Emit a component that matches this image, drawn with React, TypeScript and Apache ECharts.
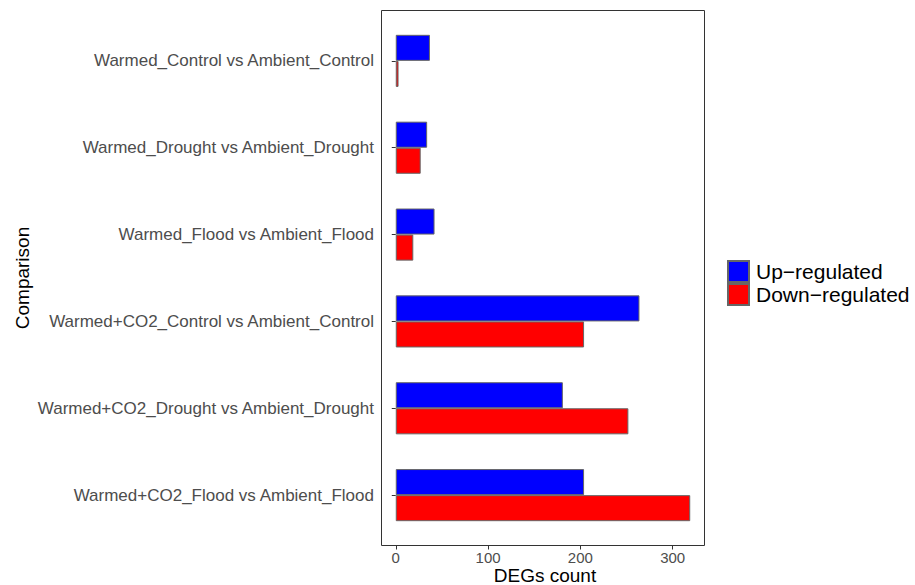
import React, { useEffect, useRef } from "react";
import * as echarts from "echarts";

const categories = [
  "Warmed_Control vs Ambient_Control",
  "Warmed_Drought vs Ambient_Drought",
  "Warmed_Flood vs Ambient_Flood",
  "Warmed+CO2_Control vs Ambient_Control",
  "Warmed+CO2_Drought vs Ambient_Drought",
  "Warmed+CO2_Flood vs Ambient_Flood",
];
const upValues = [37, 34, 42, 264, 181, 204];
const downValues = [3, 27, 19, 204, 252, 319];
const xTicks = [0, 100, 200, 300];
const seriesNames = ["Up\u2212regulated", "Down\u2212regulated"];

const FONT = "'Liberation Sans', Arial, Helvetica, sans-serif";

export default function App() {
  const ref = useRef<HTMLDivElement>(null);

  useEffect(() => {
    if (!ref.current) return;
    const chart = echarts.init(ref.current, null, { renderer: "svg" });

    // plotting panel (bordered box) and the discrete-axis padding inside it
    const panel = { x: 381, y: 10, w: 324, h: 536 };
    const step = panel.h / (categories.length + 1.2);
    const pad = step * 0.1;

    chart.setOption({
      animation: false,
      backgroundColor: "#ffffff",
      textStyle: { fontFamily: FONT },
      grid: {
        left: panel.x,
        width: panel.w,
        top: panel.y + pad,
        height: panel.h - 2 * pad,
        containLabel: false,
      },
      xAxis: {
        type: "value",
        min: -16,
        max: 335,
        offset: pad,
        splitLine: { show: false },
        axisLine: { show: false },
        axisTick: {
          show: true,
          length: 3.5,
          customValues: xTicks,
          lineStyle: { color: "#333333", width: 1 },
        },
        axisLabel: {
          customValues: xTicks,
          color: "#4d4d4d",
          fontSize: 15,
          fontFamily: FONT,
          margin: 4,
        },
      },
      yAxis: {
        type: "category",
        data: categories,
        inverse: true,
        axisLine: { show: false },
        axisTick: {
          show: true,
          alignWithLabel: true,
          length: 4,
          lineStyle: { color: "#333333", width: 1 },
        },
        axisLabel: {
          color: "#4d4d4d",
          fontSize: 17,
          fontFamily: FONT,
          margin: 7,
        },
        splitLine: { show: false },
      },
      legend: {
        orient: "vertical",
        left: 727,
        top: 260,
        padding: 0,
        itemWidth: 21,
        itemHeight: 21,
        itemGap: 0,
        icon: "rect",
        textStyle: { color: "#000000", fontSize: 21, fontFamily: FONT, padding: [0, 0, 0, 2] },
        data: seriesNames,
      },
      series: [
        {
          name: seriesNames[0],
          type: "bar",
          data: upValues,
          barGap: "0%",
          barCategoryGap: "40%",
          itemStyle: { color: "#0000ff", borderColor: "#666666", borderWidth: 1 },
        },
        {
          name: seriesNames[1],
          type: "bar",
          data: downValues,
          barGap: "0%",
          barCategoryGap: "40%",
          itemStyle: { color: "#ff0000", borderColor: "#666666", borderWidth: 1 },
        },
      ],
      graphic: [
        {
          type: "rect",
          shape: { x: panel.x + 0.5, y: panel.y + 0.5, width: panel.w - 1, height: panel.h - 1 },
          style: { fill: "none", stroke: "#333333", lineWidth: 1 },
          silent: true,
          z: 10,
        },
        {
          type: "text",
          x: 22,
          y: panel.y + panel.h / 2,
          rotation: Math.PI / 2,
          style: {
            text: "Comparison",
            fill: "#000000",
            font: `19px ${FONT}`,
            align: "center",
            verticalAlign: "middle",
          },
        },
        {
          type: "text",
          x: panel.x + panel.w / 2 + 2,
          y: 575,
          style: {
            text: "DEGs count",
            fill: "#000000",
            font: `19px ${FONT}`,
            align: "center",
            verticalAlign: "middle",
          },
        },
      ],
    });

    return () => chart.dispose();
  }, []);

  return (
    <div
      ref={ref}
      style={{ position: "absolute", left: 0, top: 0, width: 915, height: 585 }}
    />
  );
}
